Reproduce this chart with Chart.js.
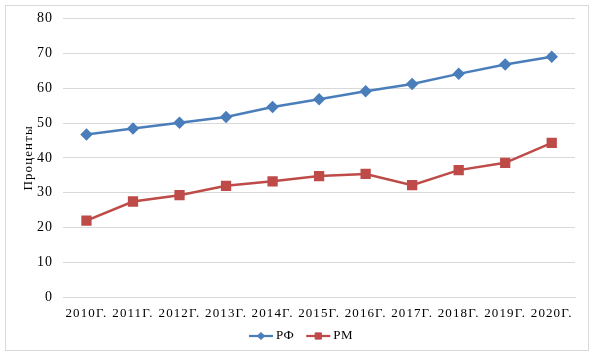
<!DOCTYPE html>
<html><head><meta charset="utf-8">
<script src="https://cdn.jsdelivr.net/npm/chart.js@4/dist/chart.umd.min.js"></script>
<style>
html,body{margin:0;padding:0;background:#fff;}
#wrap{position:absolute;left:0;top:0;width:600px;height:355px;}
#frame{position:absolute;left:5px;top:5px;width:582px;height:344px;border:1px solid #d9d9d9;}
canvas{position:absolute;left:0;top:0;}
</style></head><body>
<div id="wrap"><div id="frame"></div><canvas id="c" width="600" height="355"></canvas></div>
<script>
const categories = ["2010Г.","2011Г.","2012Г.","2013Г.","2014Г.","2015Г.","2016Г.","2017Г.","2018Г.","2019Г.","2020Г."];
const seriesRF = [46.7,48.4,50.1,51.7,54.6,56.8,59.1,61.2,64.1,66.8,69.0];
const seriesRM = [22.0,27.5,29.3,32.0,33.3,34.8,35.4,32.2,36.5,38.6,44.3];
const yTicks = [0,10,20,30,40,50,60,70,80];

const font = "'Liberation Serif','Times New Roman',serif";
const spacing = {
  id:'spacing',
  beforeLayout(c){ c.ctx.letterSpacing='1.1px'; },
  beforeDraw(c){ c.ctx.letterSpacing='1.1px'; }
};
const lineLegend = {
  id:'lineLegend',
  afterDraw(c){
    const ctx=c.ctx; ctx.save();
    ctx.font="13px "+font; ctx.textBaseline='middle';
    ctx.letterSpacing='0.5px';
    const y=336, seg=24, gap=3, between=12;
    const items=c.data.datasets.map(d=>({d,w:ctx.measureText(d.label).width}));
    let total=items.reduce((s,i)=>s+seg+gap+i.w,0)+between*(items.length-1);
    let x=301-total/2;
    items.forEach(({d,w})=>{
      ctx.strokeStyle=d.borderColor; ctx.lineWidth=2.25;
      ctx.beginPath(); ctx.moveTo(x,y); ctx.lineTo(x+seg,y); ctx.stroke();
      ctx.fillStyle=d.backgroundColor; ctx.strokeStyle=d.borderColor; ctx.lineWidth=1;
      Chart.helpers.drawPoint(ctx,{pointStyle:d.pointStyle,radius:d.pointRadius*0.8,borderWidth:1},x+seg/2,y);
      ctx.fillStyle='#000';
      ctx.fillText(d.label,x+seg+gap,y);
      x+=seg+gap+w+between;
    });
    ctx.restore();
  }
};

new Chart(document.getElementById('c'), {
  type: 'line',
  data: {
    labels: categories,
    datasets: [
      {label:'РФ', data: seriesRF, borderColor:'#4a7ebb', backgroundColor:'#4a7ebb', borderWidth:2.5,
       pointStyle:'rectRot', pointRadius:4.5, pointHoverRadius:4.5, tension:0},
      {label:'РМ', data: seriesRM, borderColor:'#be4b48', backgroundColor:'#be4b48', borderWidth:2.5,
       pointStyle:'rect', pointRadius:5.5, pointHoverRadius:5.5, tension:0}
    ]
  },
  plugins:[spacing, lineLegend],
  options: {
    responsive:false, animation:false,
    layout:{padding:{left:22,right:25,top:17,bottom:26}},
    plugins:{
      legend:{display:false},
      tooltip:{enabled:false}
    },
    scales:{
      x:{offset:true, grid:{display:false, drawTicks:false}, border:{color:'#d9d9d9'},
         ticks:{autoSkip:false, maxRotation:0, minRotation:0, color:'#000', padding:8, font:{family:font,size:13}}},
      y:{min:0,max:80, afterBuildTicks:(s)=>{s.ticks=yTicks.map(v=>({value:v}));},
         grid:{color:'#d9d9d9', drawTicks:false}, border:{display:false},
         ticks:{color:'#000', padding:10, font:{family:font,size:14}},
         title:{display:true, text:'Проценты', color:'#000', font:{family:font,size:13,lineHeight:1}, padding:{top:0,bottom:-8}}}
    }
  }
});
</script>
</body></html>
